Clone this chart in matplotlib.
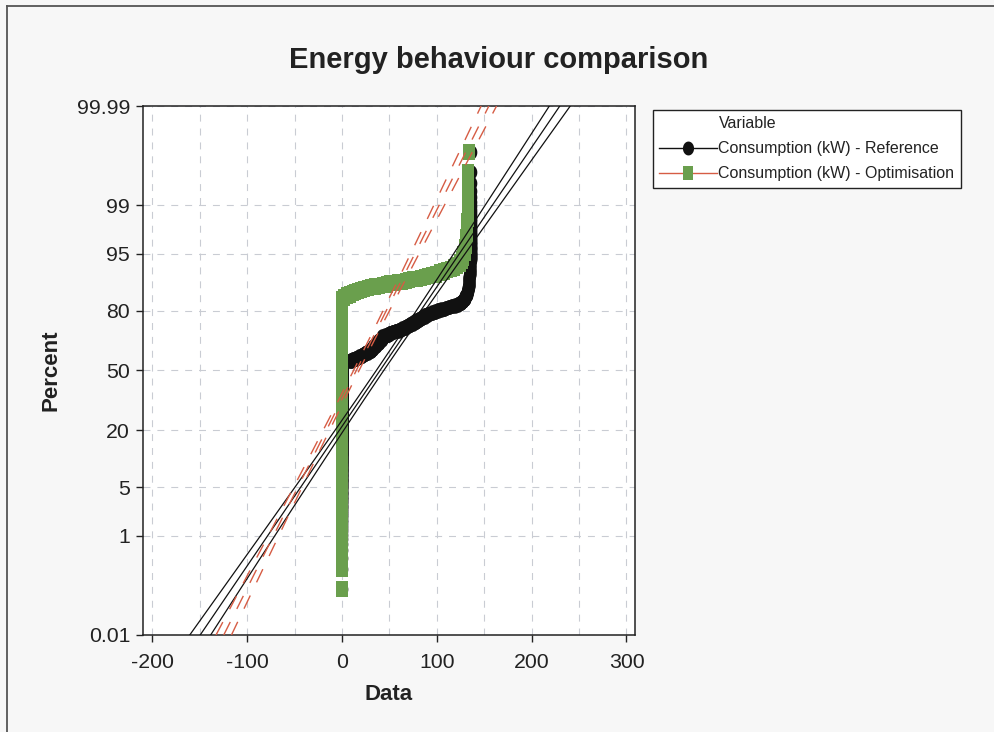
import math
import numpy as np
import matplotlib
matplotlib.use("Agg")
import matplotlib.pyplot as plt
from matplotlib import font_manager
from matplotlib.lines import Line2D
from matplotlib.path import Path
from matplotlib.ticker import MultipleLocator, NullLocator

# ---------------------------------------------------------------- data
# Observed consumption levels (kW) and how many readings sit at each level
ref_values = [0, 3, 6, 9, 12, 15, 18, 21, 24, 27, 30, 33, 36, 39, 42, 45, 48, 51,
              54, 57, 60, 63, 66, 69, 72, 75, 78, 81, 84, 87, 91, 95, 98, 101,
              104, 107, 110, 113, 116, 119, 122, 125, 128, 130, 132, 133, 134,
              135, 136]
ref_counts = [357, 1, 1, 4, 4, 5, 5, 6, 6, 6, 7, 10, 11, 11, 11, 4, 4, 4,
              3, 3, 4, 4, 4, 4, 5, 5, 5, 5, 5, 5, 4, 3, 3, 3,
              2, 2, 2, 2, 2, 2, 4, 4, 5, 8, 8, 9, 19,
              20, 39]

opt_values = [0, 2, 5, 8, 11, 14, 17, 20, 23, 27, 31, 35, 39, 43, 47, 51, 55, 59,
              63, 67, 71, 75, 79, 83, 87, 91, 95, 99, 103, 107, 111, 115, 118,
              121, 124, 126, 128, 130, 131, 132, 133, 134]
opt_counts = [549, 4, 3, 3, 2, 2, 2, 2, 2, 2, 1, 2, 1, 1, 2, 1, 1, 1,
              1, 1, 2, 1, 1, 1, 2, 1, 1, 2, 2, 2, 2, 1, 2,
              3, 3, 4, 5, 6, 7, 8, 10, 1]

# Fitted normal distribution for each variable: (mean, standard deviation)
ref_fit = (40.0, 51.0)
opt_fit = (15.0, 37.6)

series_labels = ["Consumption (kW) - Reference", "Consumption (kW) - Optimisation"]
legend_title = "Variable"

prob_ticks = [0.01, 1, 5, 20, 50, 80, 95, 99, 99.99]
prob_labels = ["0.01", "1", "5", "20", "50", "80", "95", "99", "99.99"]
x_ticks = [-200, -100, 0, 100, 200, 300]

# ---------------------------------------------------------------- style
W, H = 995, 732
BLACK = "#111111"
GREEN = "#6a9f4d"
RED = "#d65c44"
GRID = "#c9ccd3"
FIG_BG = "#f7f7f7"

plt.rcParams["axes.unicode_minus"] = False
plt.rcParams["lines.scale_dashes"] = False
plt.rcParams["font.family"] = ["Liberation Sans", "DejaVu Sans"]

available = {f.name for f in font_manager.fontManager.ttflist}
if "Liberation Sans Narrow" in available:
    REG = ["Liberation Sans Narrow", "DejaVu Sans"]
    TICK_FS, LEG_FS = 16.5, 13.9
else:
    REG = ["Liberation Sans", "DejaVu Sans"]
    TICK_FS, LEG_FS = 15.3, 11.5
BOLD = ["Liberation Sans", "DejaVu Sans"]


# ---------------------------------------------------------------- normal scale
def norm_ppf(p):
    """Inverse standard normal CDF (Acklam's rational approximation)."""
    p = np.atleast_1d(np.asarray(p, dtype=float))
    shape = p.shape
    p = np.clip(p.ravel(), 1e-12, 1 - 1e-12)
    a = [-3.969683028665376e+01, 2.209460984245205e+02, -2.759285104469687e+02,
         1.383577518672690e+02, -3.066479806614716e+01, 2.506628277459239e+00]
    b = [-5.447609879822406e+01, 1.615858368580409e+02, -1.556989798598866e+02,
         6.680131188771972e+01, -1.328068155288572e+01]
    c = [-7.784894002430293e-03, -3.223964580411365e-01, -2.400758277161838e+00,
         -2.549732539343734e+00, 4.374664141464968e+00, 2.938163982698783e+00]
    d = [7.784695709041462e-03, 3.224671290700398e-01, 2.445134137142996e+00,
         3.754408661907416e+00]
    plow = 0.02425
    out = np.empty_like(p)
    lo = p < plow
    hi = p > 1 - plow
    mid = ~(lo | hi)
    if lo.any():
        q = np.sqrt(-2 * np.log(p[lo]))
        out[lo] = ((((((c[0]*q + c[1])*q + c[2])*q + c[3])*q + c[4])*q + c[5]) /
                   ((((d[0]*q + d[1])*q + d[2])*q + d[3])*q + 1))
    if hi.any():
        q = np.sqrt(-2 * np.log(1 - p[hi]))
        out[hi] = -((((((c[0]*q + c[1])*q + c[2])*q + c[3])*q + c[4])*q + c[5]) /
                    ((((d[0]*q + d[1])*q + d[2])*q + d[3])*q + 1))
    if mid.any():
        q = p[mid] - 0.5
        r = q * q
        out[mid] = ((((((a[0]*r + a[1])*r + a[2])*r + a[3])*r + a[4])*r + a[5]) * q /
                    (((((b[0]*r + b[1])*r + b[2])*r + b[3])*r + b[4])*r + 1))
    return out.reshape(shape)


_erf = np.vectorize(math.erf, otypes=[float])


def pct_to_z(pct):
    return norm_ppf(np.asarray(pct, dtype=float) / 100.0)


def z_to_pct(z):
    z = np.asarray(z, dtype=float)
    return 50.0 * (1.0 + _erf(z / math.sqrt(2.0)))


# ---------------------------------------------------------------- markers
t = np.linspace(0, 2 * np.pi, 48)
dot = Path(np.column_stack([0.8 * np.cos(t), np.sin(t)]), closed=True)
block = Path([(-0.76, -1), (0.76, -1), (0.76, 1), (-0.76, 1), (-0.76, -1)], closed=True)

# ---------------------------------------------------------------- figure
fig = plt.figure(figsize=(W / 100, H / 100), dpi=100, facecolor=FIG_BG)
ax = fig.add_axes([143 / W, 1 - 635 / H, (635 - 143) / W, (635 - 106) / H])
ax.set_facecolor("white")
ax.set_yscale("function", functions=(pct_to_z, z_to_pct))


def plotting_positions(n):
    ranks = np.arange(1, n + 1)
    return (ranks - 0.3) / (n + 0.4) * 100.0


ref_obs = np.sort(np.repeat(ref_values, ref_counts))
opt_obs = np.sort(np.repeat(opt_values, opt_counts))

ax.scatter(ref_obs, plotting_positions(len(ref_obs)), marker=dot, s=110,
           color=BLACK, linewidths=0, zorder=3)
ax.scatter(opt_obs, plotting_positions(len(opt_obs)), marker=block, s=133,
           color=GREEN, linewidths=0, zorder=4)

# fitted lines with 95% confidence bands for the percentiles
z_grid = np.linspace(pct_to_z(0.01)[()], pct_to_z(99.99)[()], 300)
p_grid = z_to_pct(z_grid)


def fit_lines(fit, n):
    mean, sd = fit
    centre = mean + sd * z_grid
    half = 1.96 * sd * np.sqrt((1 + z_grid ** 2 / 2) / n)
    return centre - half, centre, centre + half


for xs in fit_lines(ref_fit, len(ref_obs)):
    ax.plot(xs, p_grid, color=BLACK, lw=0.9, zorder=5)
for xs in fit_lines(opt_fit, len(opt_obs)):
    ax.plot(xs, p_grid, color=RED, lw=1.0, ls=(0, (10.5, 10.5)), zorder=5)

# axes, ticks, grid
ax.set_xlim(-210, 309)
ax.set_ylim(0.01, 99.99)
ax.set_xticks(x_ticks, [str(v) for v in x_ticks])
ax.xaxis.set_minor_locator(MultipleLocator(50))
ax.set_yticks(prob_ticks, prob_labels)
ax.yaxis.set_minor_locator(NullLocator())

for lab in ax.get_xticklabels() + ax.get_yticklabels():
    lab.set_fontfamily(REG)
    lab.set_fontsize(TICK_FS)
    lab.set_color("#222222")

ax.tick_params(axis="both", which="major", direction="out", length=5, width=1,
               color="#222222")
ax.tick_params(axis="x", which="major", pad=8)
ax.tick_params(axis="y", which="major", pad=4.3)
ax.tick_params(axis="x", which="minor", length=0)

ax.grid(True, axis="x", which="both", color=GRID, lw=0.8, ls=(0, (5, 5)), zorder=0)
ax.grid(True, axis="y", which="major", color=GRID, lw=0.8, ls=(0, (5, 5)), zorder=0)
ax.set_axisbelow(True)

for sp in ax.spines.values():
    sp.set_color("#222222")
    sp.set_linewidth(1.1)

ax.set_xlabel("Data", fontsize=16, fontweight="bold", family=BOLD, color="#222222")
ax.xaxis.set_label_coords(0.5, -0.092)
ax.set_ylabel("Percent", fontsize=16, fontweight="bold", family=BOLD, color="#222222")
ax.yaxis.set_label_coords(-0.165, 0.5)

fig.text(498.5 / W, 1 - 68 / H, "Energy behaviour comparison", ha="center",
         va="baseline", fontsize=21, fontweight="bold", family=BOLD, color="#222222")

# legend
handles = [
    Line2D([], [], linestyle="none", marker=None),
    Line2D([], [], color=BLACK, lw=1.0, marker=dot, markersize=10,
           markerfacecolor=BLACK, markeredgewidth=0),
    Line2D([], [], color=RED, lw=1.0, marker=block, markersize=10,
           markerfacecolor=GREEN, markeredgewidth=0),
]
leg = fig.legend(handles, [legend_title] + series_labels, loc="upper left",
                 bbox_to_anchor=(653 / W, 1 - 110 / H), bbox_transform=fig.transFigure,
                 borderaxespad=0, frameon=True, fancybox=False, framealpha=1,
                 facecolor="white", edgecolor="#222222", numpoints=1,
                 handlelength=3.6, handletextpad=0.1, borderpad=0.4,
                 labelspacing=0.62, prop={"family": REG, "size": LEG_FS})
leg.get_frame().set_linewidth(1.0)
for txt in leg.get_texts():
    txt.set_color("#222222")

# outer frame of the graph window
fig.add_artist(Line2D([7 / W, 1], [1 - 6 / H, 1 - 6 / H], transform=fig.transFigure,
                      color="#555555", lw=1.3))
fig.add_artist(Line2D([7 / W, 7 / W], [0, 1 - 6 / H], transform=fig.transFigure,
                      color="#555555", lw=1.3))

fig.savefig("out.png", dpi=100, facecolor=FIG_BG)
